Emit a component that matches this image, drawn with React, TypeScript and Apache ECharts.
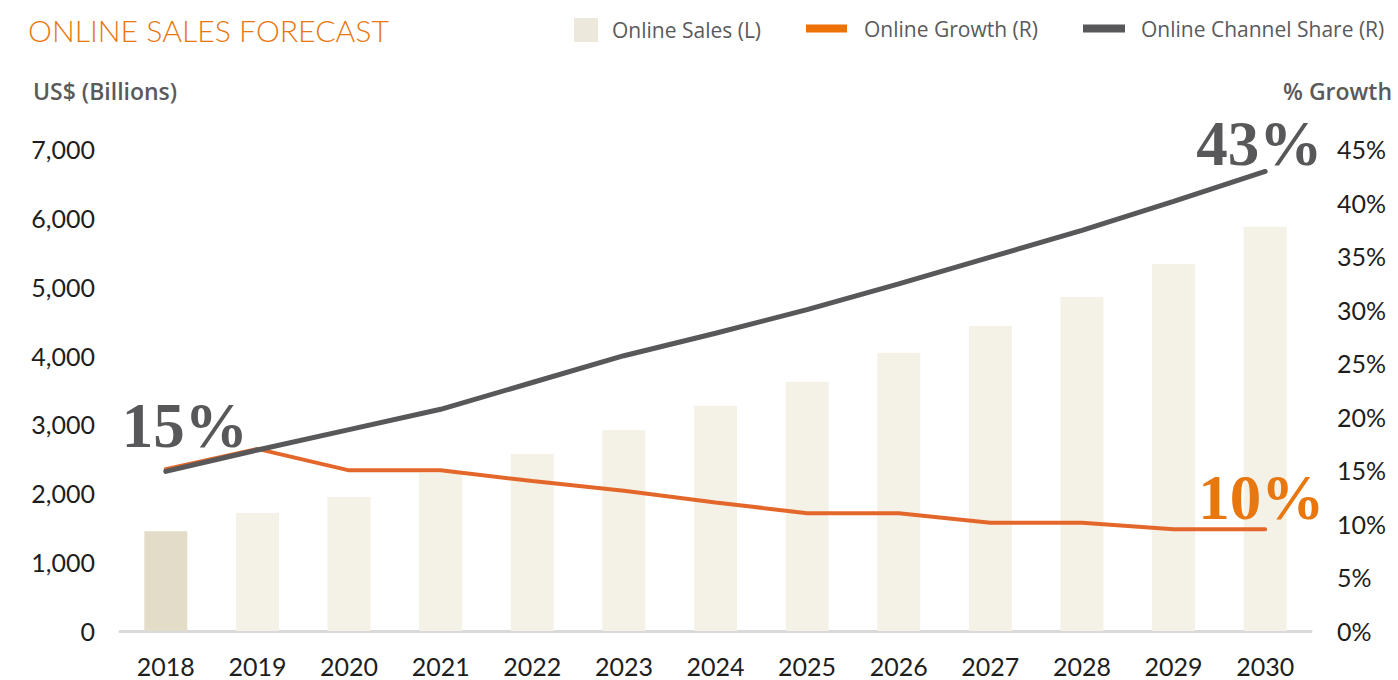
import React, { useEffect, useRef } from "react";
import * as echarts from "echarts";

const years = ["2018", "2019", "2020", "2021", "2022", "2023", "2024", "2025", "2026", "2027", "2028", "2029", "2030"];
const onlineSales = [1450, 1715, 1945, 2300, 2570, 2920, 3270, 3620, 4040, 4430, 4850, 5330, 5870];
const onlineGrowth = [15.1, 17.0, 15.0, 15.0, 14.0, 13.1, 12.0, 11.0, 11.0, 10.1, 10.1, 9.5, 9.5];
const channelShare = [14.9, 16.9, 18.8, 20.7, 23.2, 25.7, 27.8, 30.0, 32.4, 34.9, 37.4, 40.1, 42.9];
const leftTicks = { min: 0, max: 7000, interval: 1000 };
const rightTicks = { min: 0, max: 45, interval: 5 };

const TICK_FONT = "Lato, 'Noto Sans', sans-serif";
const LEGEND_FONT = "'Open Sans', 'Noto Sans', sans-serif";
const SERIF = "'Liberation Serif', 'DejaVu Serif', serif";
const GRAY = "#58585A";
const ORANGE = "#E8770F";
const LINE_ORANGE = "#E3672A";

export default function App() {
  const ref = useRef<HTMLDivElement>(null);
  useEffect(() => {
    document.body.style.margin = "0";
    const chart = echarts.init(ref.current!, null, { renderer: "svg" });
    const bigLabel = (color: string, offsetX: number, dist: number) => ({
      show: true,
      position: "top",
      distance: dist,
      offset: [offsetX, 0],
      formatter: (p: any) => Math.round(p.value) + "%",
      fontFamily: SERIF,
      fontWeight: "bold",
      fontSize: 63,
      color,
    });
    const growthData = onlineGrowth.map((v, i) =>
      i === onlineGrowth.length - 1 ? { value: v, label: bigLabel(ORANGE, -4, 0) } : v
    );
    const shareData = channelShare.map((v, i) => {
      if (i === 0) return { value: v, label: bigLabel(GRAY, 19, 14) };
      if (i === channelShare.length - 1) return { value: v, label: bigLabel(GRAY, -6, -4) };
      return v;
    });
    const legendText = { fontFamily: LEGEND_FONT, fontSize: 21, color: "#5A5A5C" };
    chart.setOption({
      animation: false,
      title: {
        text: "ONLINE SALES FORECAST",
        left: 23,
        top: 10,
        textStyle: { fontFamily: TICK_FONT, fontWeight: 300, fontSize: 30.2, color: ORANGE },
      },
      legend: [
        {
          left: 574,
          top: 18,
          padding: 0,
          itemWidth: 24,
          itemHeight: 24,
          data: [{ name: "Online Sales (L)", icon: "rect", itemStyle: { color: "#ECE9DC" } }],
          textStyle: { ...legendText, padding: [0, 0, 0, 9] },
        },
        {
          left: 806,
          top: 18,
          padding: 0,
          itemWidth: 41,
          itemHeight: 8,
          data: [{ name: "Online Growth (R)", icon: "rect", itemStyle: { color: "#EE7203" } }],
          textStyle: { ...legendText, padding: [0, 0, 0, 12] },
        },
        {
          left: 1083,
          top: 18,
          padding: 0,
          itemWidth: 42,
          itemHeight: 8,
          data: [{ name: "Online Channel Share (R)", icon: "rect", itemStyle: { color: GRAY } }],
          textStyle: { ...legendText, padding: [0, 0, 0, 11] },
        },
      ],
      graphic: [
        {
          type: "text",
          left: 33,
          top: 79,
          style: { text: "US$ (Billions)", fontFamily: LEGEND_FONT, fontWeight: 600, fontSize: 23, fill: "#5A5A5C" },
        },
        {
          type: "text",
          right: 6,
          top: 79,
          style: { text: "% Growth", fontFamily: LEGEND_FONT, fontWeight: 600, fontSize: 23, fill: "#5A5A5C" },
        },
      ],
      grid: { left: 120, right: 87, top: 149, bottom: 49, containLabel: false },
      xAxis: {
        type: "category",
        data: years,
        axisLine: { show: true, lineStyle: { color: "#D9D9D9", width: 3 } },
        axisTick: { show: false },
        axisLabel: { fontFamily: TICK_FONT, fontSize: 25, color: "#1E1E1E", margin: 22 },
      },
      yAxis: [
        {
          type: "value",
          ...leftTicks,
          splitLine: { show: false },
          axisLine: { show: false },
          axisTick: { show: false },
          axisLabel: {
            fontFamily: TICK_FONT,
            fontSize: 25,
            color: "#1E1E1E",
            margin: 25,
            formatter: (v: number) => v.toLocaleString("en-US"),
          },
        },
        {
          type: "value",
          ...rightTicks,
          splitLine: { show: false },
          axisLine: { show: false },
          axisTick: { show: false },
          axisLabel: { fontFamily: TICK_FONT, fontSize: 25, color: "#1E1E1E", margin: 26, formatter: "{value}%" },
        },
      ],
      series: [
        {
          name: "Online Sales (L)",
          type: "bar",
          data: onlineSales,
          barWidth: 43,
          itemStyle: { color: (p: any) => (p.dataIndex === 0 ? "#E2DCC8" : "#F4F1E6") },
        },
        {
          name: "Online Growth (R)",
          type: "line",
          yAxisIndex: 1,
          data: growthData,
          symbol: "circle",
          symbolSize: 0,
          showSymbol: true,
          lineStyle: { color: LINE_ORANGE, width: 4, cap: "round" },
          itemStyle: { color: LINE_ORANGE },
        },
        {
          name: "Online Channel Share (R)",
          type: "line",
          yAxisIndex: 1,
          data: shareData,
          symbol: "circle",
          symbolSize: 0,
          showSymbol: true,
          lineStyle: { color: GRAY, width: 5, cap: "round" },
          itemStyle: { color: GRAY },
        },
      ],
    });
    return () => chart.dispose();
  }, []);
  return <div ref={ref} style={{ width: 1398, height: 680 }} />;
}
